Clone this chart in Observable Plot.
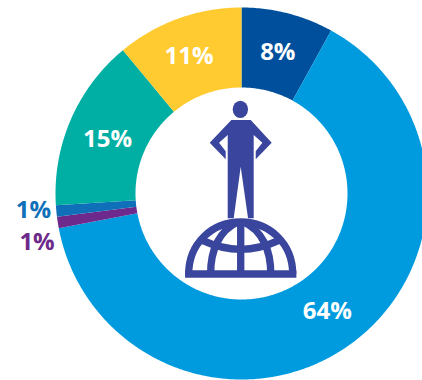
<!DOCTYPE html>
<html>
<head>
<meta charset="utf-8">
<style>
  html, body { margin: 0; padding: 0; background: #fff; overflow: hidden; }
  svg { display: block; }
</style>
<script src="https://cdn.jsdelivr.net/npm/d3@7"></script>
<script src="https://cdn.jsdelivr.net/npm/@observablehq/plot@0.6"></script>
</head>
<body>
<div id="chart"></div>
<script>
// Share of each group, clockwise from twelve o'clock
const names  = ["navy", "sky", "purple", "blue", "teal", "yellow"];
const shares = [8, 64, 1, 1, 15, 11];
const colors = ["#004f9c", "#009ade", "#6d2a8c", "#0f6fb9", "#00afa3", "#ffcb31"];

// Ring geometry, in pixels around the centre of the ring
const outerRadius = 186;
const innerRadius = 106;
const labelRadius = 146;
const calloutRadius = 209;

const polar = (r, pct) => {
  const a = (pct / 100) * 2 * Math.PI;
  return [r * Math.sin(a), -r * Math.cos(a)];
};

// Each slice becomes a closed outline traced along both rims
const slices = [];
const labels = [];
let start = 0;
shares.forEach((share, i) => {
  const end = start + share;
  const steps = Math.max(4, Math.ceil(share * 6));
  const rim = d3.range(steps + 1).map(k => start + (share * k) / steps);
  const outline = [
    ...rim.map(p => polar(outerRadius, p)),
    ...rim.slice().reverse().map(p => polar(innerRadius, p))
  ];
  outline.forEach(([x, y]) => slices.push({name: names[i], x, y}));
  const mid = start + share / 2;
  const [lx, ly] = polar(share > 1 ? labelRadius : calloutRadius, mid);
  labels.push({name: names[i], share, x: lx, y: ly, text: share + "%", color: colors[i]});
  start = end;
});

// Figure standing on a globe, centred on the ring
function figureOnGlobe(index, {x, y}) {
  const k = 1 / 3;
  const g = d3.create("svg:g")
    .attr("transform", `translate(${x(0) - 71.3},${y(0) - 103}) scale(${k})`)
    .attr("fill", "#3a469d");
  g.append("ellipse").attr("cx", 212).attr("cy", 58).attr("rx", 23).attr("ry", 26);
  g.append("path").attr("d",
    "M185,90 H243 L306,158 L258,208 V184 L278,158 L252,135 V385 H235 L213,230 L192,385 H174 V135 L148,158 L168,184 V208 L120,158 Z");
  const strokes = g.append("g").attr("fill", "none").attr("stroke", "#3a469d").attr("stroke-width", 22);
  strokes.append("path").attr("d", "M57,552 C57,462 125,396 213,396 C301,396 369,462 369,552");
  strokes.append("path").attr("d", "M46,552 H380");
  strokes.append("path").attr("d", "M213,396 V552");
  strokes.append("path").attr("d", "M100,452 Q213,504 326,452");
  strokes.append("path").attr("d", "M205,396 C150,420 122,480 123,552");
  strokes.append("path").attr("d", "M221,396 C276,420 304,480 303,552");
  return g.node();
}

const textStyle = {
  x: "x", y: "y", text: "text",
  fontFamily: "'Open Sans', sans-serif",
  fontWeight: 700,
  fontSize: 24
};

// One label for a named slice, nudged by a few pixels off its computed spot
const label = (name, fill, dx, dy) =>
  Plot.text(labels.filter(d => d.name === name), {...textStyle, fill, dx, dy});

const chart = Plot.plot({
  width: 422,
  height: 380,
  margin: 0,
  x: {domain: [-241, 181], range: [0, 422], axis: null},
  y: {domain: [-193, 187], range: [0, 380], axis: null},
  color: {domain: names, range: colors},
  marks: [
    Plot.line(slices, {x: "x", y: "y", z: "name", fill: "name", stroke: "none"}),
    label("navy", "#fff", 0, 0),
    label("sky", "#fff", 0, 0),
    label("teal", "#fff", 0, 4),
    label("yellow", "#fff", -3, 0),
    label("blue", "color", 0, -3),
    label("purple", "color", 2, 16),
    figureOnGlobe
  ]
});
document.getElementById("chart").append(chart);
</script>
</body>
</html>
